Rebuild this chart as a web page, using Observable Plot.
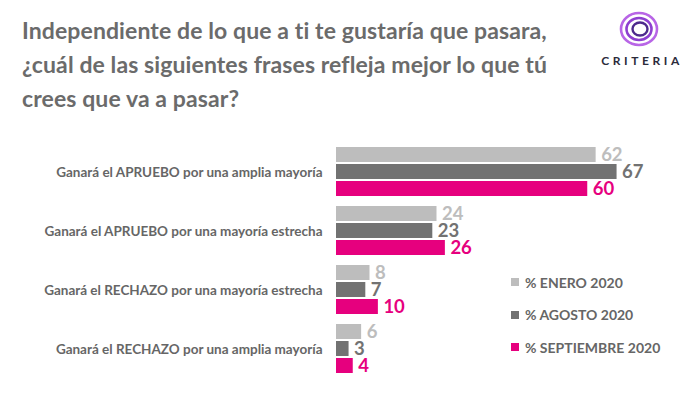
<!DOCTYPE html>
<html>
<head>
<meta charset="utf-8">
<script src="https://cdn.jsdelivr.net/npm/d3@7"></script>
<script src="https://cdn.jsdelivr.net/npm/@observablehq/plot@0.6"></script>
<style>
  html, body { margin: 0; padding: 0; background: #fff; }
  #root { position: relative; width: 700px; height: 394px; overflow: hidden; background: #fff; font-family: Lato, "Open Sans", sans-serif; }
  #title { position: absolute; left: 22px; top: 13px; font-size: 23px; line-height: 34px; font-weight: 700; letter-spacing: 0.1px; color: #6b6b6b; white-space: nowrap; }
  #chart { position: absolute; left: 0; top: 130px; }
  #chart svg g[aria-label="fy-axis tick label"] text, #chart svg [aria-label^="fy-axis"] text { font-weight: 700; }
  #legend { position: absolute; left: 511px; top: 266px; }
  .li { display: flex; align-items: center; height: 32.5px; font-size: 14px; font-weight: 700; color: #666; }
  .sw { width: 8px; height: 8px; margin-right: 6px; }
  #logo { position: absolute; left: 595px; top: 4px; }
</style>
</head>
<body>
<div id="root">
  <div id="title">Independiente de lo que a ti te gustaría que pasara,<br>¿cuál de las siguientes frases refleja mejor lo que tú<br>crees que va a pasar?</div>
  <svg id="logo" width="100" height="66" viewBox="0 0 100 66">
    <ellipse cx="44" cy="25" rx="18" ry="16" fill="none" stroke="#b865e6" stroke-width="2.6"/>
    <ellipse cx="44" cy="25" rx="12.5" ry="11" fill="none" stroke="#8e3fd0" stroke-width="2.6"/>
    <ellipse cx="45" cy="25" rx="7.5" ry="6.5" fill="none" stroke="#4d2a8c" stroke-width="2.4"/>
    <text x="47" y="61" text-anchor="middle" font-family="Lato, sans-serif" font-size="12" font-weight="700" letter-spacing="3.6" fill="#2b2b3b">CRITERIA</text>
  </svg>
  <div id="chart"></div>
  <div id="legend"></div>
</div>
<script>
const categories = [
  "Ganará el APRUEBO por una amplia mayoría",
  "Ganará el APRUEBO por una mayoría estrecha",
  "Ganará el RECHAZO por una mayoría estrecha",
  "Ganará el RECHAZO por una amplia mayoría"
];
const series = ["% ENERO 2020", "% AGOSTO 2020", "% SEPTIEMBRE 2020"];
const enero = [62, 24, 8, 6];
const agosto = [67, 23, 7, 3];
const septiembre = [60, 26, 10, 4];
const colors = ["#bdbdbd", "#727272", "#e6007e"];

const values = [enero, agosto, septiembre];
const data = categories.flatMap((c, i) => series.map((s, j) => ({category: c, series: s, value: values[j][i]})));

const chart = Plot.plot({
  width: 700,
  height: 264,
  marginLeft: 336,
  marginRight: 29,
  marginTop: 16,
  marginBottom: 18,
  style: {fontFamily: "Lato, sans-serif", fontSize: "13.5px", fontWeight: "700", color: "#666", background: "transparent"},
  x: {domain: [0, 80], axis: null},
  y: {domain: series, axis: null, paddingInner: 0.1, paddingOuter: 0},
  fy: {domain: categories, axis: "left", label: null, tickSize: 0, tickPadding: 14, paddingInner: 0.15, paddingOuter: 0},
  color: {domain: series, range: colors},
  marks: [
    Plot.barX(data, {x: "value", y: "series", fy: "category", fill: "series"}),
    Plot.text(data, {x: "value", y: "series", fy: "category", text: d => String(d.value), fill: "series", dx: 5, textAnchor: "start", fontSize: 18.5, fontWeight: "bold"})
  ]
});
chart.querySelectorAll("text").forEach(t => { if (!t.getAttribute("font-weight")) t.setAttribute("font-weight", "700"); });
document.getElementById("chart").appendChild(chart);

const legend = document.getElementById("legend");
series.forEach((s, j) => {
  const row = document.createElement("div");
  row.className = "li";
  const sw = document.createElement("span");
  sw.className = "sw";
  sw.style.background = colors[j];
  const t = document.createElement("span");
  t.textContent = s;
  row.appendChild(sw);
  row.appendChild(t);
  legend.appendChild(row);
});
</script>
</body>
</html>
